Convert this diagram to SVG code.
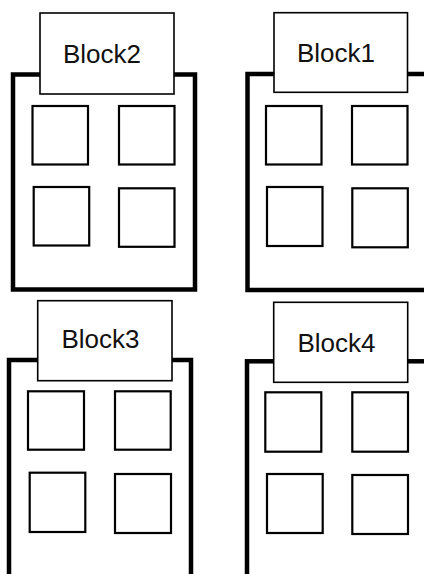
<svg xmlns="http://www.w3.org/2000/svg" width="424" height="574" viewBox="0 0 424 574">
<style>
.outer{fill:#fff;stroke:#000;stroke-width:4.5}
.label{fill:#fff;stroke:#000;stroke-width:1.6}
.cell{fill:#fff;stroke:#000;stroke-width:2.2}
.txt{font-family:"Liberation Sans",Arial,sans-serif;font-size:26px;fill:#111;text-anchor:middle}
</style>
<rect width="424" height="574" fill="#fff"/>
<g id="block2">
<rect class="outer" x="13" y="74.5" width="182" height="215"/>
<rect class="cell" x="32.5" y="106" width="55.5" height="58.5"/>
<rect class="cell" x="119" y="106" width="55.5" height="58.5"/>
<rect class="cell" x="33.7" y="187" width="55.5" height="58.5"/>
<rect class="cell" x="119" y="188.3" width="55.5" height="58.5"/>
<rect class="label" x="40" y="13" width="134" height="81"/>
<text class="txt" x="102" y="62.5">Block2</text>
</g>
<g id="block1">
<rect class="outer" x="247.5" y="74" width="200" height="216"/>
<rect class="cell" x="266" y="106" width="55.5" height="58.5"/>
<rect class="cell" x="352" y="106" width="55.5" height="58.5"/>
<rect class="cell" x="267" y="187" width="55.5" height="59"/>
<rect class="cell" x="352.3" y="188.3" width="55.5" height="59"/>
<rect class="label" x="274" y="12.7" width="133.5" height="79.6"/>
<text class="txt" x="336" y="61.7">Block1</text>
</g>
<g id="block3">
<rect class="outer" x="9" y="360" width="182" height="240"/>
<rect class="cell" x="28" y="391.3" width="56" height="58.4"/>
<rect class="cell" x="115" y="391.3" width="55.7" height="58.4"/>
<rect class="cell" x="29.7" y="472.7" width="55.6" height="59.3"/>
<rect class="cell" x="115" y="474" width="56" height="59"/>
<rect class="label" x="37.7" y="300.7" width="134.3" height="80"/>
<text class="txt" x="100.5" y="348.3">Block3</text>
</g>
<g id="block4">
<rect class="outer" x="247" y="361.3" width="200" height="240"/>
<rect class="cell" x="265.3" y="392.3" width="56" height="59.4"/>
<rect class="cell" x="352.3" y="392.3" width="55.7" height="59.4"/>
<rect class="cell" x="267" y="474" width="55.7" height="59"/>
<rect class="cell" x="352.3" y="475" width="55.7" height="59"/>
<rect class="label" x="273.7" y="302.3" width="134" height="80"/>
<text class="txt" x="336.5" y="351.7">Block4</text>
</g>
<g id="connectors"></g>
</svg>
